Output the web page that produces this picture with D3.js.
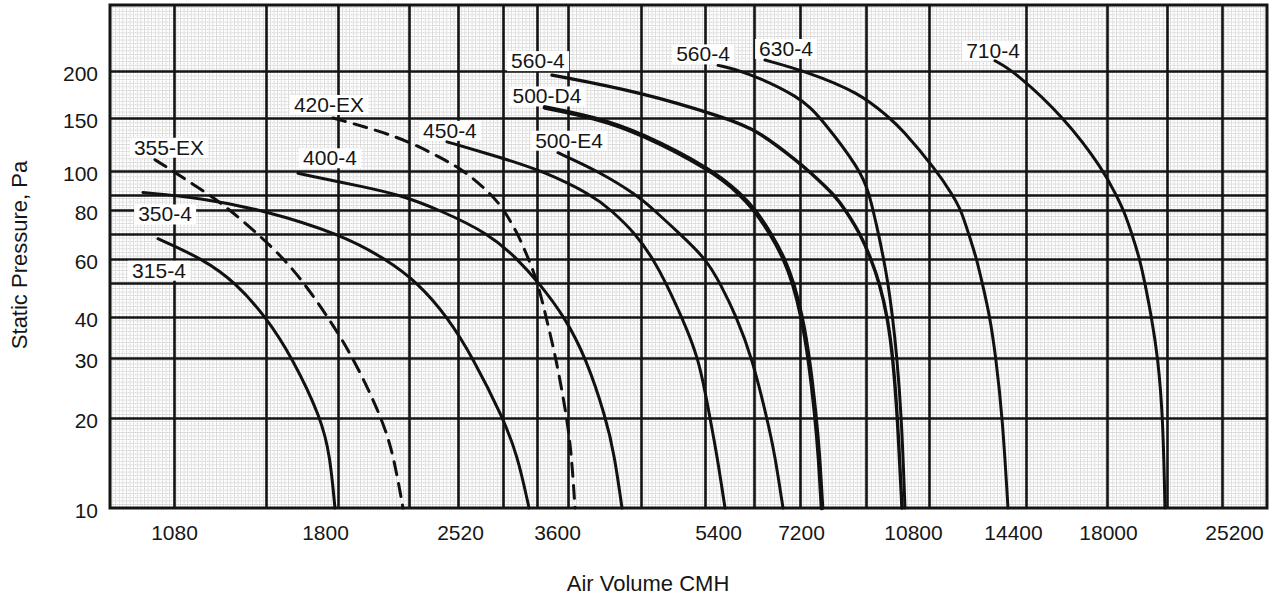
<!DOCTYPE html>
<html>
<head>
<meta charset="utf-8">
<script src="https://cdn.jsdelivr.net/npm/d3@7"></script>
<style>
  body { margin: 0; background: #fff; }
  text { font-family: "Liberation Sans", Arial, Helvetica, sans-serif; fill: #161616; }
</style>
</head>
<body>
<div id="chart"></div>
<script>
//svg size
var svgWidth = 1272;
var svgHeight = 600;
//plot frame of the scanned sheet
var plot = { left: 110, right: 1267, top: 5, bottom: 508 };

//printed tick labels
var xTickValues = [1080, 1800, 2520, 3600, 5400, 7200, 10800, 14400, 18000, 25200];
var yTickValues = [10, 20, 30, 40, 60, 80, 100, 150, 200];
//heavy lines of the log paper (first and last are the frame)
var xGridValues = [880, 1080, 1440, 1800, 2160, 2520, 2880, 3240, 3600, 4500, 5400, 6300, 7200, 9000, 10800, 14400, 18000, 21600, 25200, 28800];
var yGridValues = [10, 20, 30, 40, 50, 60, 70, 80, 90, 100, 150, 200, 300];

//fan curves, air volume (CMH) vs static pressure (Pa)
var fanNames = ["315-4", "355-EX", "350-4", "420-EX", "400-4", "450-4", "500-E4", "500-D4", "560-4", "560-4", "630-4", "710-4"];
var cmh_315_4 = [1026, 1183, 1311, 1440, 1563, 1708, 1756, 1783];
var pa_315_4 = [68, 60, 50, 40, 30, 20, 15, 10];
var cmh_355_EX = [1016, 1076, 1207, 1287, 1404, 1523, 1620, 1745, 1873, 2015, 2076, 2127];
var pa_355_EX = [109, 100, 90, 80, 70, 60, 50, 40, 30, 20, 15, 10];
var cmh_350_4 = [978, 1171, 1427, 1809, 2036, 2222, 2438, 2635, 2880, 3028, 3152];
var pa_350_4 = [91, 88, 80, 70, 60, 50, 40, 30, 20, 15, 10];
var cmh_420_EX = [1772, 2111, 2381, 2573, 2788, 2890, 3033, 3147, 3249, 3341, 3456, 3588, 3639, 3678];
var pa_420_EX = [150, 130, 111, 100, 90, 80, 70, 60, 50, 40, 30, 20, 15, 10];
var cmh_400_4 = [1590, 1939, 2111, 2381, 2767, 3029, 3262, 3560, 3804, 4043, 4150, 4246];
var pa_400_4 = [99, 93, 90, 80, 70, 60, 50, 40, 30, 20, 15, 10];
var cmh_450_4 = [2434, 2854, 3307, 3874, 4106, 4432, 4657, 4832, 5052, 5308, 5485, 5608, 5751];
var pa_450_4 = [125, 111, 100, 90, 80, 70, 60, 50, 40, 30, 20, 15, 10];
var cmh_500_E4 = [3480, 3946, 4445, 4670, 5029, 5417, 5661, 5964, 6261, 6542, 6696, 6853];
var pa_500_E4 = [115, 100, 90, 80, 70, 60, 50, 40, 30, 20, 15, 10];
var cmh_500_D4 = [3329, 3929, 4486, 5555, 6048, 6315, 6618, 6881, 7062, 7249, 7422, 7595, 7677, 7756];
var pa_500_D4 = [160, 150, 134, 100, 90, 80, 70, 60, 50, 40, 30, 20, 15, 10];
var cmh_560_4a = [3409, 4486, 5769, 6355, 7200, 7415, 8098, 8392, 8834, 9131, 9359, 9578, 9731, 9861, 9988];
var pa_560_4a = [195, 176, 150, 137, 106, 100, 90, 80, 70, 60, 50, 40, 30, 20, 10];
var cmh_560_4b = [5626, 6105, 7200, 7730, 8857, 9086, 9184, 9334, 9470, 9592, 9720, 9845, 9976, 10075];
var pa_560_4b = [207, 200, 171, 150, 100, 90, 80, 70, 60, 50, 40, 30, 20, 10];
var cmh_630_4 = [6504, 7323, 8819, 9630, 9931, 11059, 11580, 11876, 12149, 12442, 12646, 12942, 13171, 13431, 13651];
var pa_630_4 = [214, 200, 175, 150, 140, 100, 90, 80, 70, 60, 50, 40, 30, 20, 10];
var cmh_710_4 = [13135, 13889, 16033, 17851, 18499, 18931, 19420, 19881, 20197, 20606, 21016, 21337, 21468];
var pa_710_4 = [213, 200, 150, 100, 90, 80, 70, 60, 50, 40, 30, 20, 10];

var fanCmh = [cmh_315_4, cmh_355_EX, cmh_350_4, cmh_420_EX, cmh_400_4, cmh_450_4, cmh_500_E4, cmh_500_D4, cmh_560_4a, cmh_560_4b, cmh_630_4, cmh_710_4];
var fanPa = [pa_315_4, pa_355_EX, pa_350_4, pa_420_EX, pa_400_4, pa_450_4, pa_500_E4, pa_500_D4, pa_560_4a, pa_560_4b, pa_630_4, pa_710_4];

//layout: the paper is hand ruled, so each heavy line sits at its own pixel
var xGridPx = [110, 174, 266, 338, 409, 458, 503, 537, 568, 641, 705, 754, 800, 866, 929, 1026, 1107, 1167, 1222, 1267];
var yGridPx = [508, 418, 358, 317, 283, 259, 234, 210, 195, 171, 118, 71, 5];
//printed x labels are not centred on their lines
var xTickNudge = [0, -13, 2, -11, 13, 1, -16, -13, 1, 12];
//curve label offset from the start of each curve
var labelDx = [1, 14, 22, -4, 32, 3, 11, 2, -14, -15, 21, -2];
var labelDy = [39, -5, 29, -6, -8, -4, -5, -4, -7, -4, -4, -3];
var dashedFans = ["355-EX", "420-EX"];

//scales
var x = d3.scaleLog().domain(xGridValues).range(xGridPx);
var y = d3.scaleLog().domain(yGridValues).range(yGridPx);

var svg = d3.select("#chart").append("svg")
    .attr("width", svgWidth)
    .attr("height", svgHeight);

//fine graph paper texture
var pattern = svg.append("defs").append("pattern")
    .attr("id", "paper")
    .attr("patternUnits", "userSpaceOnUse")
    .attr("width", 3.6)
    .attr("height", 3.6);
pattern.append("path")
    .attr("d", "M0 0.5H3.6M0.5 0V3.6")
    .attr("stroke", "#c4c4c4")
    .attr("stroke-width", 0.9)
    .attr("stroke-dasharray", "1.2,0.6");
svg.append("rect")
    .attr("x", plot.left)
    .attr("y", plot.top)
    .attr("width", plot.right - plot.left)
    .attr("height", plot.bottom - plot.top)
    .attr("fill", "url(#paper)");

//heavy grid from axes
var gridX = svg.append("g")
    .attr("transform", `translate(0, ${plot.bottom})`)
    .call(d3.axisBottom(x).tickValues(xGridValues.slice(1, -1)).tickSize(-(plot.bottom - plot.top)).tickFormat(""));
gridX.select(".domain").remove();
gridX.selectAll("line").attr("stroke", "#141414").attr("stroke-width", 2.6);

var gridY = svg.append("g")
    .attr("transform", `translate(${plot.left}, 0)`)
    .call(d3.axisLeft(y).tickValues(yGridValues.slice(1, -1)).tickSize(-(plot.right - plot.left)).tickFormat(""));
gridY.select(".domain").remove();
gridY.selectAll("line").attr("stroke", "#141414").attr("stroke-width", 2.6);

//frame
svg.append("rect")
    .attr("x", plot.left)
    .attr("y", plot.top)
    .attr("width", plot.right - plot.left)
    .attr("height", plot.bottom - plot.top)
    .attr("fill", "none")
    .attr("stroke", "#141414")
    .attr("stroke-width", 3);

//tick labels
var xAxis = svg.append("g")
    .attr("transform", `translate(0, ${plot.bottom})`)
    .call(d3.axisBottom(x).tickValues(xTickValues).tickSize(0).tickFormat(d3.format("d")));
xAxis.select(".domain").remove();
xAxis.selectAll("text")
    .attr("y", 32)
    .attr("dy", 0)
    .attr("dx", (d, i) => xTickNudge[i])
    .style("font-size", "21px")
    .style("font-family", "'Liberation Sans', Arial, sans-serif");

var yAxis = svg.append("g")
    .attr("transform", `translate(${plot.left}, 0)`)
    .call(d3.axisLeft(y).tickValues(yTickValues).tickSize(0).tickPadding(12).tickFormat(d3.format("d")));
yAxis.select(".domain").remove();
yAxis.selectAll("text")
    .attr("dy", "0.45em")
    .style("font-size", "21px")
    .style("font-family", "'Liberation Sans', Arial, sans-serif");

//axis titles
svg.append("text")
    .attr("x", 648)
    .attr("y", 591)
    .attr("text-anchor", "middle")
    .attr("font-size", "22px")
    .text("Air Volume CMH");
svg.append("text")
    .attr("transform", "translate(27, 255) rotate(-90)")
    .attr("text-anchor", "middle")
    .attr("font-size", "22px")
    .text("Static Pressure, Pa");

//build curve table
var fans = fanNames.map(function (name, i) {
    return { name: name, pts: d3.zip(fanCmh[i], fanPa[i]), i: i };
});

//label boxes go under curves, text on top
var boxLayer = svg.append("g");
var curveLayer = svg.append("g");
var textLayer = svg.append("g");

//smooth spline, the read points carry some hand-drawing noise
var line = d3.line()
    .x(d => x(d[0]))
    .y(d => y(d[1]))
    .curve(d3.curveBasis);

curveLayer.selectAll("path")
    .data(fans)
    .enter()
    .append("path")
    .attr("d", d => line(d.pts))
    .attr("fill", "none")
    .attr("stroke", "#111")
    .attr("stroke-width", d => d.name === "500-D4" ? 4.6 : (d.i === 8 ? 3.4 : 3))
    .attr("stroke-linecap", "round")
    .attr("stroke-dasharray", d => dashedFans.indexOf(d.name) >= 0 ? "13,9" : null);

var labels = textLayer.selectAll("text")
    .data(fans)
    .enter()
    .append("text")
    .attr("x", d => x(d.pts[0][0]) + labelDx[d.i])
    .attr("y", d => y(d.pts[0][1]) + labelDy[d.i])
    .attr("text-anchor", "middle")
    .attr("font-size", "21px")
    .text(d => d.name);

labels.each(function () {
    var b = this.getBBox();
    boxLayer.append("rect")
        .attr("x", b.x - 4)
        .attr("y", b.y + 2)
        .attr("width", b.width + 8)
        .attr("height", b.height - 3)
        .attr("fill", "#fff");
});
</script>
</body>
</html>
